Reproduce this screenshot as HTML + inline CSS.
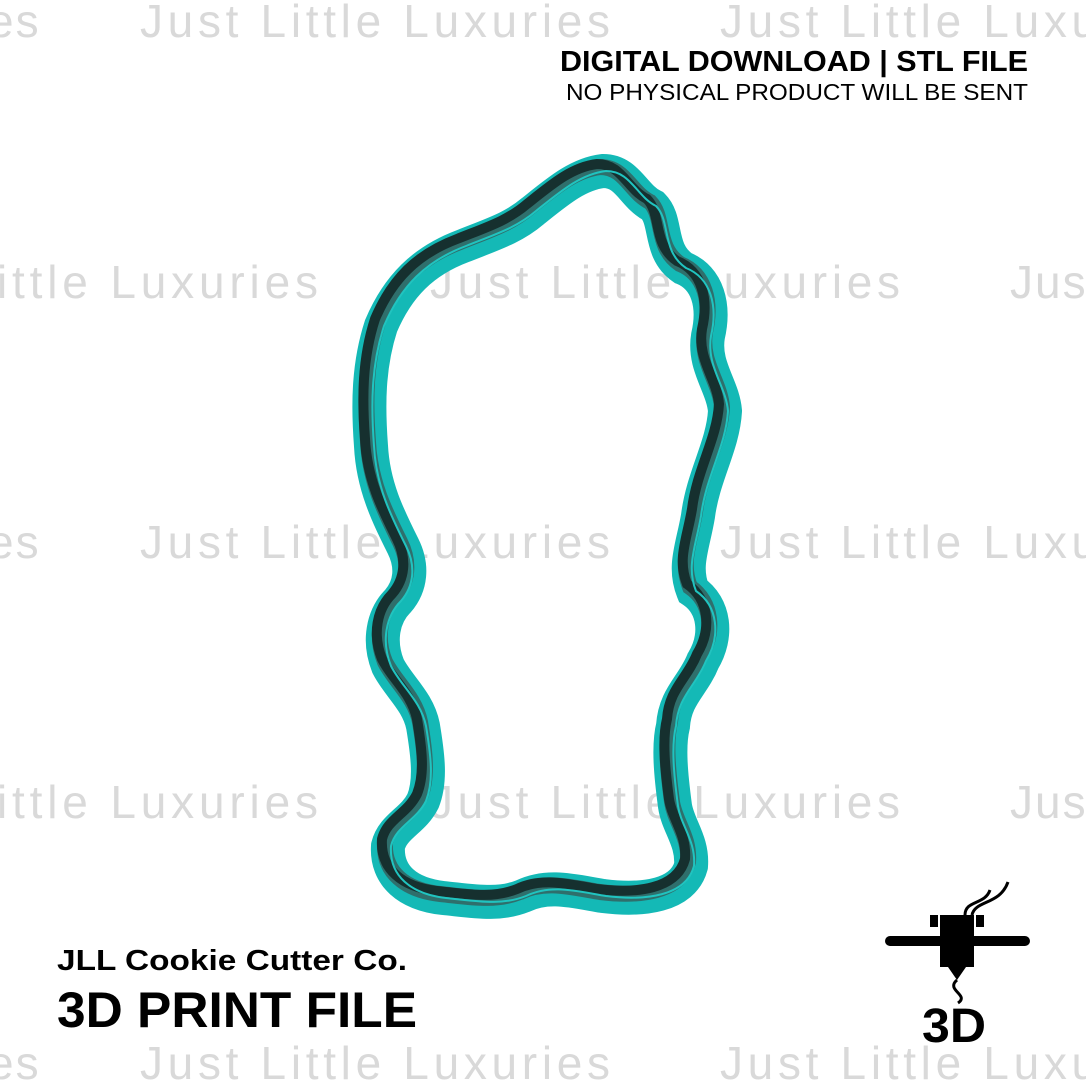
<!DOCTYPE html>
<html><head><style>
html,body{margin:0;padding:0;background:#fff;}
svg{display:block}
</style></head><body>
<svg width="1086" height="1086" viewBox="0 0 1086 1086" xmlns="http://www.w3.org/2000/svg">
<rect width="1086" height="1086" fill="#fff"/>
<g font-family="Liberation Sans, sans-serif" font-size="46" fill="#d9d9d9" letter-spacing="2">
<text x="-12" y="37">es</text>
<text x="140" y="37" textLength="472">Just Little Luxuries</text>
<text x="720" y="37" textLength="472">Just Little Luxuries</text>
<text x="-3" y="298" textLength="323">ittle Luxuries</text>
<text x="430" y="298" textLength="472">Just Little Luxuries</text>
<text x="1010" y="298">Jus</text>
<text x="-12" y="558">es</text>
<text x="140" y="558" textLength="472">Just Little Luxuries</text>
<text x="720" y="558" textLength="472">Just Little Luxuries</text>
<text x="-3" y="818" textLength="323">ittle Luxuries</text>
<text x="430" y="818" textLength="472">Just Little Luxuries</text>
<text x="1010" y="818">Jus</text>
<text x="-12" y="1079">es</text>
<text x="140" y="1079" textLength="472">Just Little Luxuries</text>
<text x="720" y="1079" textLength="472">Just Little Luxuries</text>
</g>
<defs>
<path id="p" d="M600,165 C625,165 630,190 650,200 C665,215 655,245 680,262 C705,272 712,300 705,330 C700,360 720,380 722,405 C720,440 700,470 695,510 C690,540 680,560 690,585 C712,600 715,630 700,655 C690,680 672,690 670,720 C665,740 668,770 672,800 C675,820 690,835 688,860 C680,890 640,895 600,890 C570,885 545,878 520,890 C495,900 470,895 440,892 C405,888 383,870 385,840 C390,820 410,815 420,795 C428,775 425,750 420,720 C415,695 395,680 385,660 C375,635 380,610 395,595 C408,580 410,560 400,540 C385,510 370,480 368,440 C365,400 365,360 378,320 C395,280 420,255 460,240 C490,228 510,222 530,205 C555,185 575,168 600,165 Z"/>
</defs>
<use href="#p" fill="none" stroke="#14b9b6" stroke-width="34" transform="translate(3,6)"/>
<use href="#p" fill="none" stroke="#2f6f6c" stroke-width="16" transform="translate(0,2)"/>
<use href="#p" fill="none" stroke="#16302f" stroke-width="10" transform="translate(-3,-1)"/>
<use href="#p" fill="none" stroke="#20c4c0" stroke-width="2" transform="translate(6,6)"/>
<g font-family="Liberation Sans, sans-serif" font-weight="bold" fill="#000">
<text x="560" y="71" font-size="29" textLength="468" lengthAdjust="spacingAndGlyphs">DIGITAL DOWNLOAD | STL FILE</text>
<text x="566" y="100" font-size="23" font-weight="normal" textLength="462" lengthAdjust="spacingAndGlyphs">NO PHYSICAL PRODUCT WILL BE SENT</text>
<text x="57" y="970" font-size="29" textLength="350" lengthAdjust="spacingAndGlyphs">JLL Cookie Cutter Co.</text>
<text x="57" y="1027" font-size="50" textLength="360" lengthAdjust="spacingAndGlyphs">3D PRINT FILE</text>
<text x="922" y="1042" font-size="48" textLength="64" lengthAdjust="spacingAndGlyphs">3D</text>
</g>
<rect x="885" y="936" width="145" height="10" rx="5" fill="#000"/>
<rect x="940" y="915" width="34" height="52" fill="#000"/>
<rect x="930" y="915" width="8" height="12" fill="#000"/>
<rect x="976" y="915" width="8" height="12" fill="#000"/>
<path d="M948,967 L966,967 L957,980 Z" fill="#000"/>
<path d="M957,980 C945,990 970,995 958,1003" fill="none" stroke="#000" stroke-width="3"/>
<path d="M965,915 C965,900 985,905 990,890 M972,915 C975,900 1000,905 1008,882" fill="none" stroke="#000" stroke-width="3"/>
</svg>
</body></html>
